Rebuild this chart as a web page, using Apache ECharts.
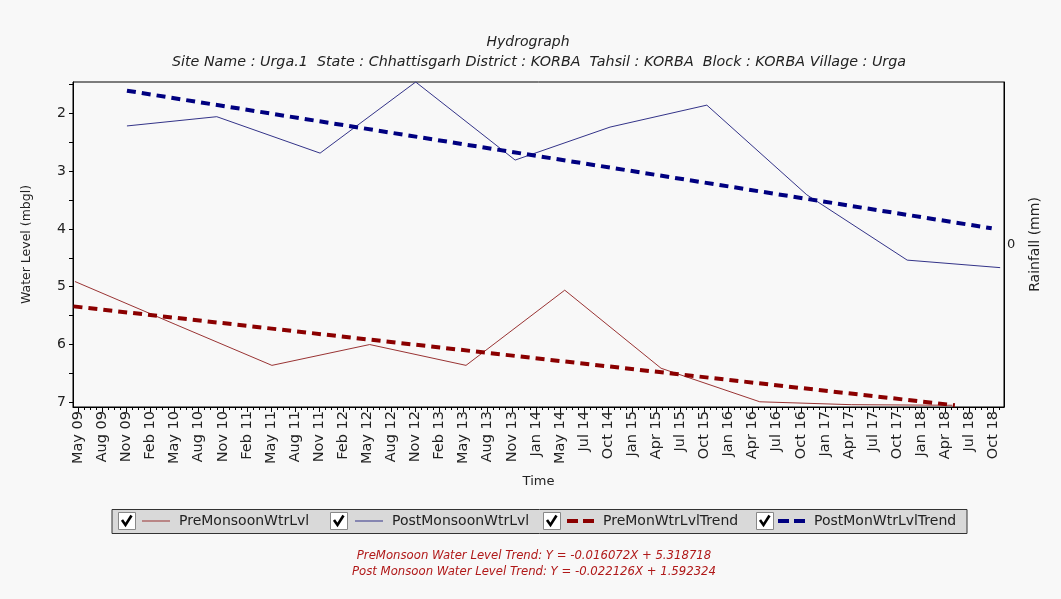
<!DOCTYPE html>
<html><head><meta charset="utf-8">
<script src="https://cdn.jsdelivr.net/npm/echarts@6/dist/echarts.min.js"></script>
<style>html,body{margin:0;padding:0;background:#f8f8f8}#c{width:1061px;height:599px}</style>
</head><body><div id="c"></div>
<script>
// Tick labels of the time axis (evenly spaced, one per quarter)
const tickLabels = ['May 09','Aug 09','Nov 09','Feb 10','May 10','Aug 10','Nov 10','Feb 11','May 11','Aug 11','Nov 11','Feb 12','May 12','Aug 12','Nov 12','Feb 13','May 13','Aug 13','Nov 13','Jan 14','May 14','Jul 14','Oct 14','Jan 15','Apr 15','Jul 15','Oct 15','Jan 16','Apr 16','Jul 16','Oct 16','Jan 17','Apr 17','Jul 17','Oct 17','Jan 18','Apr 18','Jul 18','Oct 18'];
const yLabels = [2, 3, 4, 5, 6, 7];
// Positions along the time axis in tick-label units, values in mbgl
const preX  = [-0.14, 4.02, 8.04, 12.1, 16.1, 20.2, 24.2, 28.3, 32.1, 36.3];
const preY  = [4.91, 5.65, 6.36, 6.0, 6.36, 5.06, 6.41, 6.99, 7.04, 7.05];
const postX = [2.02, 5.75, 10.04, 14.01, 18.14, 22.08, 26.1, 30.25, 34.42, 38.28];
const postY = [2.22, 2.06, 2.69, 1.46, 2.81, 2.24, 1.86, 3.41, 4.54, 4.67];
const preTrendX  = [-0.2, 36.4];
const preTrendY  = [5.34, 7.05];
const postTrendX = [2.02, 37.93];
const postTrendY = [1.61, 3.99];
const seriesNames = ['PreMonsoonWtrLvl', 'PostMonsoonWtrLvl', 'PreMonWtrLvlTrend', 'PostMonWtrLvlTrend'];
const titleText = 'Hydrograph';
const subText = 'Site Name : Urga.1  State : Chhattisgarh District : KORBA  Tahsil : KORBA  Block : KORBA Village : Urga';
const trendTexts = ['PreMonsoon Water Level Trend: Y = -0.016072X + 5.318718', 'Post Monsoon Water Level Trend: Y = -0.022126X + 1.592324'];

const zip = (xs, ys) => xs.map((x, i) => [x, ys[i]]);
const majorTicks = tickLabels.map((_, i) => i);
const minorTicks = [];
for (let i = 0; i < tickLabels.length; i++) { [0.25, 0.5, 0.75].forEach(f => { if (i + f < 38.44) minorTicks.push(i + f); }); }
const yTicks = [1.5, 2, 2.5, 3, 3.5, 4, 4.5, 5, 5.5, 6, 6.5, 7];

const FONT = 'DejaVu Sans, Verdana, sans-serif';
const chart = echarts.init(document.getElementById('c'));

const legendLeft = [142, 355, 567, 778];
const boxLeft = [118, 330, 543, 756];
const thinIcon = 'path://M0,0H28V1H0Z';
const dashIcon = 'path://M0,0H11V4H0ZM16,0H27V4H16Z';
const legendIcons = [thinIcon, thinIcon, dashIcon, dashIcon];
const legendIconH = [1.2, 1.2, 4, 4];

const graphics = [
  { type: 'text', x: 528, y: 42, style: { text: titleText, font: 'italic 14px ' + FONT, fill: '#222', textAlign: 'center', textVerticalAlign: 'middle' } },
  { type: 'text', x: 539, y: 62, style: { text: subText, font: 'italic 14.3px ' + FONT, fill: '#222', textAlign: 'center', textVerticalAlign: 'middle' } },
  { type: 'rect', shape: { x: 112, y: 509.5, width: 855, height: 24 }, style: { fill: '#d9d9d9', stroke: '#333', lineWidth: 1 }, z: 0 },
  { type: 'text', x: 534, y: 556, style: { text: trendTexts[0], font: 'italic 11.7px ' + FONT, fill: '#b01818', textAlign: 'center', textVerticalAlign: 'middle' } },
  { type: 'text', x: 534, y: 572, style: { text: trendTexts[1], font: 'italic 11.7px ' + FONT, fill: '#b01818', textAlign: 'center', textVerticalAlign: 'middle' } }
];
boxLeft.forEach(x => {
  graphics.push({ type: 'rect', shape: { x: x + 0.5, y: 512.5, width: 17, height: 17 }, style: { fill: '#fff', stroke: '#888', lineWidth: 1 }, z: 1 });
  graphics.push({ type: 'polyline', shape: { points: [[x + 4, 520], [x + 7.5, 525], [x + 13.5, 515.5]] }, style: { stroke: '#000', lineWidth: 2.6, fill: null }, z: 2 });
});

const option = {
  backgroundColor: '#f8f8f8',
  animation: false,
  textStyle: { fontFamily: FONT },
  graphic: graphics,
  grid: { left: 73, right: 57, top: 82, bottom: 192, show: true, borderColor: '#000', borderWidth: 1, backgroundColor: 'transparent' },
  legend: seriesNames.map((n, i) => ({
    data: [{ name: n, icon: legendIcons[i] }], left: legendLeft[i], top: 514, padding: 0,
    itemWidth: i < 2 ? 28 : 27, itemHeight: legendIconH[i], itemGap: 0,
    selectedMode: false, textStyle: { fontSize: 14, color: '#222', fontFamily: FONT, padding: [0, 0, 0, 4] }
  })),
  xAxis: [
    {
      type: 'value', min: -0.22, max: 38.44, position: 'bottom',
      name: 'Time', nameLocation: 'middle', nameGap: 68, nameTextStyle: { fontSize: 13, color: '#222' },
      axisLine: { onZero: false, lineStyle: { color: '#000' } },
      axisTick: { show: true, customValues: majorTicks, length: 5, lineStyle: { color: '#000' } },
      axisLabel: { customValues: majorTicks, rotate: 90, margin: 4, fontSize: 14.5, color: '#222', formatter: v => tickLabels[Math.round(v)] },
      splitLine: { show: false }
    },
    {
      type: 'value', min: -0.22, max: 38.44, position: 'bottom',
      axisLine: { show: false, onZero: false },
      axisTick: { show: true, customValues: minorTicks, length: 3, lineStyle: { color: '#000' } },
      axisLabel: { show: false },
      splitLine: { show: false }
    }
  ],
  yAxis: [
    {
      type: 'value', inverse: true, min: 1.46, max: 7.08,
      name: 'Water Level (mbgl)', nameLocation: 'middle', nameGap: 40, nameTextStyle: { fontSize: 12.5, color: '#222' },
      axisLine: { show: true, onZero: false, lineStyle: { color: '#000' } },
      axisTick: { show: true, customValues: yTicks, length: 4, lineStyle: { color: '#000' } },
      axisLabel: { customValues: yLabels, fontSize: 14, color: '#222', margin: 7 },
      splitLine: { show: false }
    },
    {
      type: 'value', min: -1, max: 1, position: 'right',
      name: 'Rainfall (mm)', nameLocation: 'middle', nameGap: 24, nameTextStyle: { fontSize: 14, color: '#222' },
      axisLine: { show: true, onZero: false, lineStyle: { color: '#000' } },
      axisTick: { show: false },
      axisLabel: { customValues: [0], fontSize: 13, color: '#222', margin: 3 },
      splitLine: { show: false }
    }
  ],
  series: [
    { name: seriesNames[0], type: 'line', data: zip(preX, preY), symbol: 'none', color: '#993333', lineStyle: { width: 1, color: '#993333' } },
    { name: seriesNames[1], type: 'line', data: zip(postX, postY), symbol: 'none', color: '#333388', lineStyle: { width: 1, color: '#333388' } },
    { name: seriesNames[2], type: 'line', data: zip(preTrendX, preTrendY), symbol: 'none', color: '#8b0000', lineStyle: { width: 4, color: '#8b0000', type: [9, 6] } },
    { name: seriesNames[3], type: 'line', data: zip(postTrendX, postTrendY), symbol: 'none', color: '#000080', lineStyle: { width: 4, color: '#000080', type: [9, 6] } }
  ]
};
chart.setOption(option);
</script>
</body></html>
